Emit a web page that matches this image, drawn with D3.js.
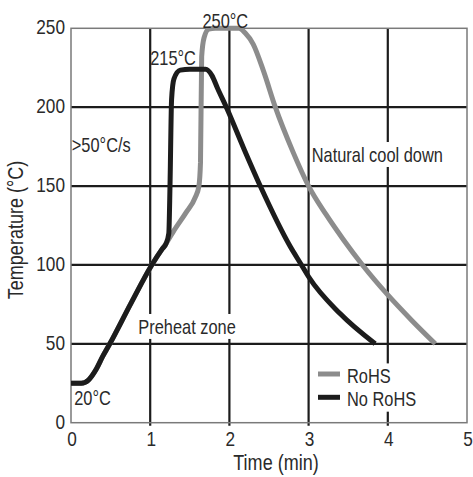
<!DOCTYPE html>
<html>
<head>
<meta charset="utf-8">
<script src="https://cdn.jsdelivr.net/npm/d3@7"></script>
<style>
	body { margin: 0; background: #fff; }
	svg text { font-family: "Liberation Sans", Arial, sans-serif; fill: #2a2a2a; }
</style>
</head>
<body>
<svg id="chart" width="473" height="477"></svg>
<script>
// Reflow profiles, time in minutes vs temperature in C
var rohsTime = [0, 0.13, 0.22, 0.32, 0.4, 0.49, 0.75, 1.02, 1.15, 1.2, 1.29, 1.45, 1.57, 1.615, 1.635, 1.65, 1.68, 1.74, 1.82, 2.12, 2.2, 2.3, 2.43, 2.58, 2.8, 3.0, 3.22, 3.44, 3.68, 4.0, 4.3, 4.6];
var rohsTemp = [25, 25, 27, 34, 42, 50, 75, 100, 110, 113.5, 121, 133, 143, 150, 165, 232, 244, 249.5, 250, 250, 247, 240, 223, 200, 172, 150, 132, 116, 100, 81, 65, 50];

var noRohsTime = [0, 0.13, 0.22, 0.32, 0.4, 0.49, 0.75, 1.02, 1.15, 1.2, 1.235, 1.25, 1.27, 1.3, 1.38, 1.5, 1.7, 1.78, 1.85, 1.97, 2.18, 2.39, 2.77, 2.91, 3.0, 3.4, 3.84];
var noRohsTemp = [25, 25, 27, 34, 42, 50, 75, 100, 110, 113.5, 120, 150, 205, 218, 223.5, 224, 224, 220, 212, 199, 174, 150, 111.5, 100, 92.5, 69, 50];

var xTicks = [0, 1, 2, 3, 4, 5];
var yTicks = [0, 50, 100, 150, 200, 250];

var seriesNames = ['RoHS', 'No RoHS'];
var seriesColors = ['#8c8c8c', '#1c1c1c'];

// annotation texts: [text, time, temp(baseline), blank the grid behind it]
var notes = [
	['250\u00b0C', 1.66, 250.5, false],
	['215\u00b0C', 1.0, 226.5, false],
	['>50\u00b0C/s', 0.01, 171.5, false],
	['Natural cool down', 3.04, 165.5, true],
	['Preheat zone', 0.85, 56.5, true],
	['20\u00b0C', 0.04, 11.2, false]
];

var narrow = 0.82; // squeeze Liberation Sans to a narrow face

var svg = d3.select('#chart');

var x = d3.scaleLinear().domain([0, 5]).range([71, 467]);
var y = d3.scaleLinear().domain([0, 250]).range([422.7, 28.3]);

function addText(parent, px, py, str, size, anchor, rot) {
	return parent.append('text')
		.attr('transform', 'translate(' + px + ',' + py + ')' + (rot ? ' rotate(' + rot + ')' : '') + ' scale(' + narrow + ',1)')
		.attr('text-anchor', anchor || 'start')
		.style('font-size', size + 'px')
		.text(str);
}

// grid
svg.append('g').selectAll('line')
	.data(xTicks.slice(1, -1)).enter()
	.append('line')
	.attr('x1', d => x(d)).attr('x2', d => x(d))
	.attr('y1', y(250)).attr('y2', y(0) + 3)
	.style('stroke', '#1c1c1c').style('stroke-width', 2.2)
svg.append('g').selectAll('line')
	.data(yTicks.slice(1, -1)).enter()
	.append('line')
	.attr('x1', x(0)).attr('x2', x(5))
	.attr('y1', d => y(d)).attr('y2', d => y(d))
	.style('stroke', '#1c1c1c').style('stroke-width', 2.2)

// frame
svg.append('rect')
	.attr('x', x(0)).attr('y', y(250))
	.attr('width', x(5) - x(0)).attr('height', y(0) - y(250))
	.style('fill', 'none').style('stroke', '#7a7a7a').style('stroke-width', 1.5)

// tick labels
var gx = svg.append('g');
xTicks.forEach(d => addText(gx, x(d) + 1, 446, d, 21, 'middle'));
var gy = svg.append('g');
yTicks.forEach(d => addText(gy, 65, y(d) + 6, d, 21, 'end'));

// axis titles
addText(svg, 276, 470, 'Time (min)', 22, 'middle');
addText(svg, 23, 230, 'Temperature (\u00b0C)', 22, 'middle', -90);

// curves
var line = d3.line()
	.x(d => x(d[0]))
	.y(d => y(d[1]))
	.curve(d3.curveMonotoneX);

var series = [d3.zip(rohsTime, rohsTemp), d3.zip(noRohsTime, noRohsTemp)];

svg.append('g').selectAll('path')
	.data(series).enter()
	.append('path')
	.attr('d', line)
	.style('fill', 'none')
	.style('stroke', (d, i) => seriesColors[i])
	.style('stroke-width', 5)
	.style('stroke-linejoin', 'round')

function blank(g, t) {
	var b = t.node().getBBox();
	g.insert('rect', 'text')
		.attr('transform', t.attr('transform'))
		.attr('x', b.x - 2).attr('y', b.y - 1)
		.attr('width', b.width + 4).attr('height', b.height + 2)
		.style('fill', '#fff');
}

// annotations
notes.forEach(function(n) {
	var g = svg.append('g');
	var t = addText(g, x(n[1]), y(n[2]), n[0], 20);
	if (n[3]) blank(g, t);
});

// legend
seriesNames.forEach(function(name, i) {
	var g = svg.append('g')
		.attr('transform', 'translate(318,' + (374 + i * 23.3) + ')');
	var t = addText(g, 29, 9, name, 20);
	blank(g, t);
	g.append('line')
		.attr('x1', 0).attr('x2', 22)
		.style('stroke', seriesColors[i]).style('stroke-width', 5)
});
</script>
</body>
</html>
